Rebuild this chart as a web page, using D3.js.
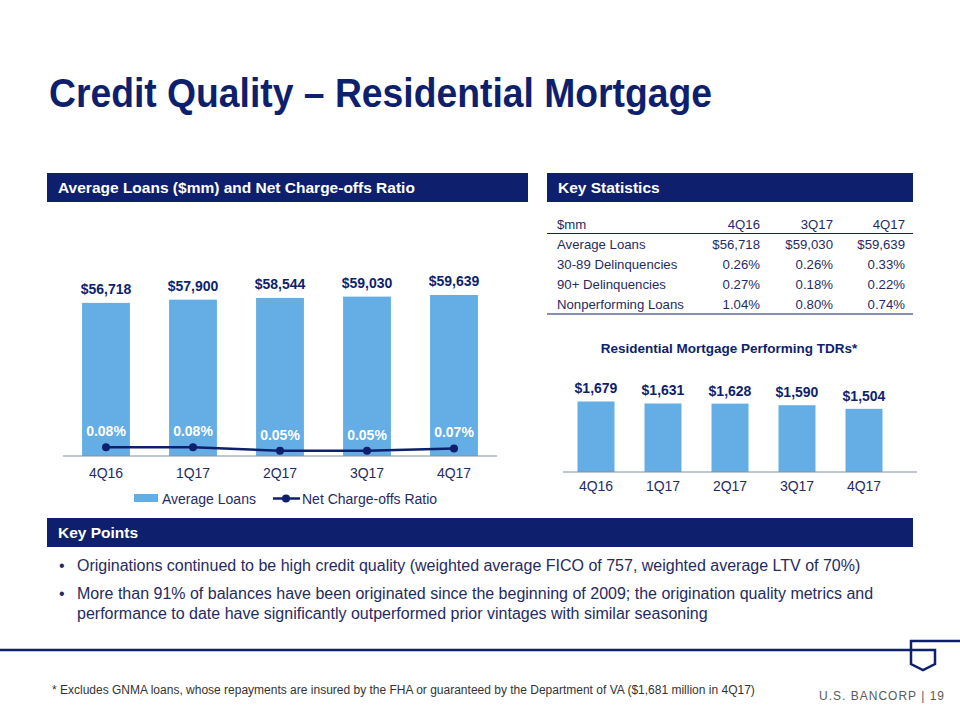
<!DOCTYPE html>
<html><head><meta charset="utf-8">
<script src="https://cdn.jsdelivr.net/npm/d3@7"></script>
<style>
html,body{margin:0;padding:0;background:#fff;}
svg{display:block;font-family:"Liberation Sans",Arial,sans-serif;}
</style></head>
<body><svg id="chart" width="960" height="720"></svg>
<script>
const quarters = ["4Q16","1Q17","2Q17","3Q17","4Q17"];
const avgLoans = [56718,57900,58544,59030,59639];
const ncoRatio = [0.08,0.08,0.05,0.05,0.07];
const tdrValues = [1679,1631,1628,1590,1504];
const statColumns = ["4Q16","3Q17","4Q17"];
const statRowLabels = ["Average Loans","30-89 Delinquencies","90+ Delinquencies","Nonperforming Loans"];
const statAvgLoans = [56718,59030,59639];
const stat3089 = [0.26,0.26,0.33];
const stat90 = [0.27,0.18,0.22];
const statNPL = [1.04,0.80,0.74];
const keyPoints = [
  ["Originations continued to be high credit quality (weighted average FICO of 757, weighted average LTV of 70%)"],
  ["More than 91% of balances have been originated since the beginning of 2009; the origination quality metrics and",
   "performance to date have significantly outperformed prior vintages with similar seasoning"]
];

const NAVY = "#0e1f6d";
const BAR = "#64aee5";
const TXT = "#1f2b63";
const svg = d3.select("#chart");

// Title
svg.append("text").attr("x",49).attr("y",107).attr("fill",NAVY)
  .attr("font-size",40).attr("font-weight","bold").attr("textLength",663).attr("lengthAdjust","spacingAndGlyphs")
  .text("Credit Quality \u2013 Residential Mortgage");

// Section headers
function header(x,y,w,h,label){
  svg.append("rect").attr("x",x).attr("y",y).attr("width",w).attr("height",h).attr("fill",NAVY);
  svg.append("text").attr("x",x+11).attr("y",y+h/2+5.5).attr("fill","#fff")
    .attr("font-size",15.5).attr("font-weight","bold").text(label);
}
header(47,173,481,29,"Average Loans ($mm) and Net Charge-offs Ratio");
header(547,173,366,29,"Key Statistics");
header(47,518,866,29,"Key Points");

// ---- Left chart
const x1 = d3.scaleBand().domain(quarters).range([62.5,497.5]).paddingInner(0.45).paddingOuter(0.225);
const y1 = d3.scaleLinear().domain([0,70000]).range([456,267]);
const y2 = d3.scaleLinear().domain([0,1]).range([457,334]);
const g1 = svg.append("g");
g1.selectAll("rect.bar").data(avgLoans).join("rect").attr("class","bar")
  .attr("x",(d,i)=>x1(quarters[i])).attr("width",x1.bandwidth())
  .attr("y",d=>y1(d)).attr("height",d=>y1(0)-y1(d)).attr("fill",BAR);
g1.selectAll("text.vl").data(avgLoans).join("text").attr("class","vl")
  .attr("x",(d,i)=>x1(quarters[i])+x1.bandwidth()/2).attr("y",d=>y1(d)-9)
  .attr("text-anchor","middle").attr("font-size",14).attr("font-weight","bold").attr("fill",NAVY)
  .text(d=>"$"+d3.format(",")(d));
const ax1 = g1.append("g").attr("transform","translate(0,456)")
  .call(d3.axisBottom(x1).tickSize(0).tickPadding(12));
ax1.select(".domain").attr("d","M63,0H497").attr("stroke","#7f8fa6").attr("stroke-width",1.2);
ax1.selectAll("text").attr("font-size",14).attr("fill",TXT).attr("font-family","Liberation Sans, Arial, sans-serif");
const line = d3.line().x((d,i)=>x1(quarters[i])+x1.bandwidth()/2).y(d=>y2(d));
g1.append("path").datum(ncoRatio).attr("d",line).attr("fill","none").attr("stroke",NAVY).attr("stroke-width",2.5);
g1.selectAll("circle.pt").data(ncoRatio).join("circle").attr("class","pt")
  .attr("cx",(d,i)=>x1(quarters[i])+x1.bandwidth()/2).attr("cy",d=>y2(d)).attr("r",4).attr("fill",NAVY);
g1.selectAll("text.pl").data(ncoRatio).join("text").attr("class","pl")
  .attr("x",(d,i)=>x1(quarters[i])+x1.bandwidth()/2).attr("y",d=>y2(d)-11)
  .attr("text-anchor","middle").attr("font-size",14).attr("font-weight","bold").attr("fill","#fff")
  .text(d=>d.toFixed(2)+"%");
// legend
const lg = svg.append("g");
lg.append("rect").attr("x",134).attr("y",494).attr("width",24).attr("height",8).attr("fill",BAR);
lg.append("text").attr("x",162).attr("y",504).attr("font-size",14).attr("fill",TXT).text("Average Loans");
lg.append("line").attr("x1",273).attr("x2",300).attr("y1",498.5).attr("y2",498.5).attr("stroke",NAVY).attr("stroke-width",2.5);
lg.append("circle").attr("cx",286).attr("cy",498.5).attr("r",4).attr("fill",NAVY);
lg.append("text").attr("x",302).attr("y",504).attr("font-size",14).attr("fill",TXT).text("Net Charge-offs Ratio");

// ---- Key statistics table
const colX = d3.scaleOrdinal().domain(statColumns).range([760,833,905]);
const tb = svg.append("g").attr("font-size",13.2).attr("fill",TXT);
tb.append("text").attr("x",557).attr("y",229).text("$mm");
statColumns.forEach(c=>tb.append("text").attr("x",colX(c)).attr("y",229).attr("text-anchor","end").text(c));
tb.append("line").attr("x1",547).attr("x2",913).attr("y1",233.5).attr("y2",233.5).attr("stroke",NAVY).attr("stroke-width",1.2);
const pct = v=>v.toFixed(2)+"%";
const rowsVals = [statAvgLoans.map(v=>"$"+d3.format(",")(v)), stat3089.map(pct), stat90.map(pct), statNPL.map(pct)];
statRowLabels.forEach((lab,r)=>{
  const yy = 249 + r*20;
  tb.append("text").attr("x",557).attr("y",yy).text(lab);
  statColumns.forEach((c,j)=>tb.append("text").attr("x",colX(c)).attr("y",yy).attr("text-anchor","end").text(rowsVals[r][j]));
});
tb.append("line").attr("x1",547).attr("x2",913).attr("y1",314).attr("y2",314).attr("stroke",NAVY).attr("stroke-width",1.2);

// ---- TDR chart
svg.append("text").attr("x",729).attr("y",353).attr("text-anchor","middle").attr("font-size",13.5)
  .attr("font-weight","bold").attr("fill",NAVY).text("Residential Mortgage Performing TDRs*");
const x3 = d3.scaleBand().domain(quarters).range([562.5,897.5]).paddingInner(0.448).paddingOuter(0.224);
const y3 = d3.scaleLinear().domain([0,2000]).range([472,388]);
const g3 = svg.append("g");
g3.selectAll("rect").data(tdrValues).join("rect")
  .attr("x",(d,i)=>x3(quarters[i])).attr("width",x3.bandwidth())
  .attr("y",d=>y3(d)).attr("height",d=>y3(0)-y3(d)).attr("fill",BAR);
g3.selectAll("text.vl").data(tdrValues).join("text").attr("class","vl")
  .attr("x",(d,i)=>x3(quarters[i])+x3.bandwidth()/2).attr("y",d=>y3(d)-8)
  .attr("text-anchor","middle").attr("font-size",14).attr("font-weight","bold").attr("fill",NAVY)
  .text(d=>"$"+d3.format(",")(d));
const ax3 = g3.append("g").attr("transform","translate(0,472)")
  .call(d3.axisBottom(x3).tickSize(0).tickPadding(9));
ax3.select(".domain").attr("d","M563,0H917").attr("stroke","#7f8fa6").attr("stroke-width",1.2);
ax3.selectAll("text").attr("font-size",14).attr("fill",TXT).attr("font-family","Liberation Sans, Arial, sans-serif");

// ---- Key points
const kp = svg.append("g").attr("font-size",16).attr("fill",TXT);
let by = 571;
keyPoints.forEach(lines=>{
  kp.append("text").attr("x",59).attr("y",by).text("\u2022");
  lines.forEach((l,k)=>{
    kp.append("text").attr("x",77).attr("y",by+k*20).text(l);
  });
  by += 28 + (lines.length-1)*20;
});

// ---- footer
svg.append("line").attr("x1",0).attr("x2",911).attr("y1",650).attr("y2",650).attr("stroke",NAVY).attr("stroke-width",2.5);
svg.append("path").attr("d","M960,641H911V664L923,670L935,664V650H911")
  .attr("fill","none").attr("stroke",NAVY).attr("stroke-width",2.5).attr("stroke-linejoin","miter");
svg.append("text").attr("x",52).attr("y",694).attr("font-size",12).attr("fill","#333")
  .text("* Excludes GNMA loans, whose repayments are insured by the FHA or guaranteed by the Department of VA ($1,681 million in 4Q17)");
svg.append("text").attr("x",945).attr("y",700).attr("text-anchor","end").attr("font-size",12)
  .attr("fill","#5a5a5a").attr("letter-spacing",1).text("U.S. BANCORP  |  19");
</script></body></html>
